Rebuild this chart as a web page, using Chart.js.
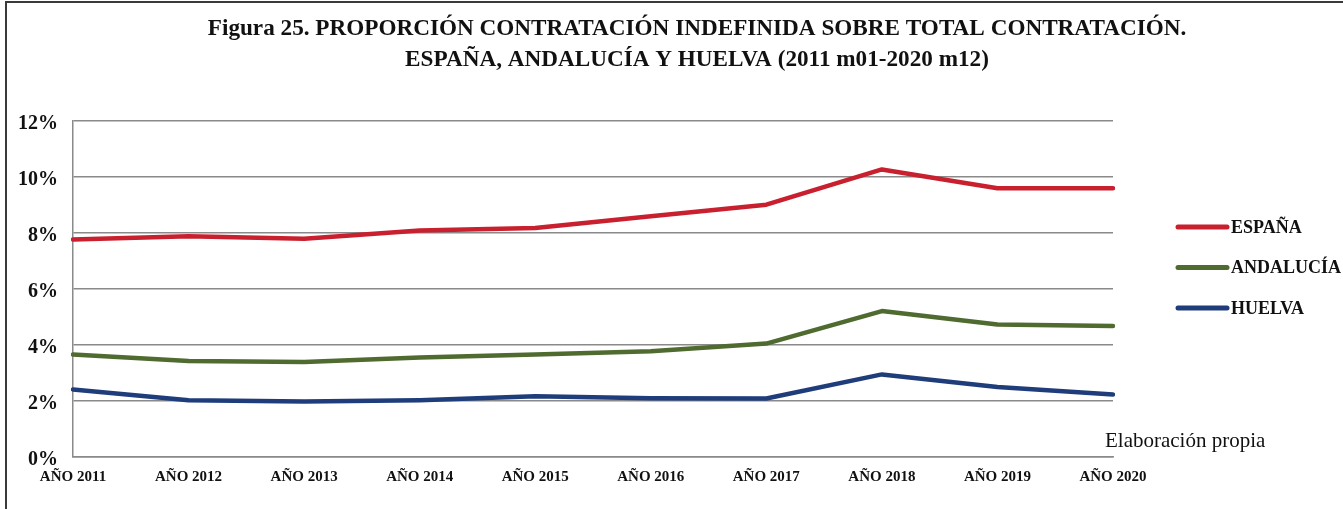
<!DOCTYPE html>
<html>
<head>
<meta charset="utf-8">
<script src="https://cdn.jsdelivr.net/npm/chart.js@4/dist/chart.umd.min.js"></script>
<style>
  html, body { margin: 0; padding: 0; background: #fff; }
  #wrap { position: relative; width: 1343px; height: 509px; overflow: hidden; }
  #frame { position: absolute; left: 5px; top: 1px; width: 1400px; height: 600px; border: 2px solid #3a3a3a; box-sizing: border-box; pointer-events: none; }
  canvas { position: absolute; left: 0; top: 0; }
</style>
</head>
<body>
<div id="wrap">
  <canvas id="c" width="1343" height="509"></canvas>
  <div id="frame"></div>
</div>
<script>
const titleLines = [
  'Figura 25. PROPORCIÓN CONTRATACIÓN INDEFINIDA SOBRE TOTAL CONTRATACIÓN.',
  'ESPAÑA, ANDALUCÍA Y HUELVA (2011 m01-2020 m12)'
];
const categories = ['AÑO 2011','AÑO 2012','AÑO 2013','AÑO 2014','AÑO 2015','AÑO 2016','AÑO 2017','AÑO 2018','AÑO 2019','AÑO 2020'];
const seriesNames = ['ESPAÑA', 'ANDALUCÍA', 'HUELVA'];
const espana    = [7.77, 7.88, 7.79, 8.09, 8.18, 8.60, 9.01, 10.27, 9.60, 9.60];
const andalucia = [3.66, 3.43, 3.39, 3.55, 3.66, 3.78, 4.05, 5.21, 4.73, 4.68];
const huelva    = [2.41, 2.03, 1.98, 2.03, 2.17, 2.10, 2.09, 2.95, 2.50, 2.23];
const yMin = 0, yMax = 12, yStep = 2;
const sourceNote = 'Elaboración propia';

const colors = ['#C8202E', '#4F6B30', '#1F3D7A'];
const serif = '"Liberation Serif", "DejaVu Serif", serif';

const customLegend = {
  id: 'customLegend',
  afterDraw(chart) {
    const ctx = chart.ctx;
    ctx.save();
    const x0 = 1178, len = 49, yStart = 227, gap = 40.5;
    chart.data.datasets.forEach((ds, i) => {
      const y = yStart + i * gap;
      ctx.strokeStyle = ds.borderColor;
      ctx.lineWidth = 5;
      ctx.lineCap = 'round';
      ctx.beginPath(); ctx.moveTo(x0, y); ctx.lineTo(x0 + len, y); ctx.stroke();
      ctx.fillStyle = '#111';
      ctx.font = 'bold 18px ' + serif;
      ctx.textAlign = 'left';
      ctx.textBaseline = 'middle';
      ctx.fillText(ds.label, x0 + len + 4, y + 1);
    });
    ctx.font = '21px ' + serif;
    ctx.fillStyle = '#111';
    ctx.textAlign = 'left';
    ctx.textBaseline = 'middle';
    ctx.fillText(sourceNote, 1105, 441);
    ctx.restore();
  }
};

new Chart(document.getElementById('c'), {
  type: 'line',
  data: {
    labels: categories,
    datasets: [espana, andalucia, huelva].map((d, i) => ({
      label: seriesNames[i],
      data: d,
      borderColor: colors[i],
      backgroundColor: colors[i],
      borderWidth: 4.5,
      pointRadius: 0,
      tension: 0,
      borderCapStyle: 'round',
      borderJoinStyle: 'round'
    }))
  },
  options: {
    responsive: false,
    animation: false,
    layout: { padding: { left: 0, right: -51, top: 0, bottom: 0 } },
    plugins: {
      legend: { display: false },
      tooltip: { enabled: false },
      title: {
        display: true,
        text: titleLines,
        color: '#111',
        font: { family: serif, size: 23.2, weight: 'bold', lineHeight: 1.34 },
        padding: { top: 13, bottom: 45.8 }
      }
    },
    scales: {
      x: {
        type: 'category',
        offset: false,
        afterFit(scale) { scale.height = 52; },
        grid: { display: false, drawTicks: false },
        border: { display: true, color: '#8a8a8a', width: 1.5 },
        ticks: {
          color: '#111',
          padding: 11,
          maxRotation: 0,
          autoSkip: false,
          font: { family: serif, size: 15, weight: 'bold' }
        }
      },
      y: {
        min: yMin, max: yMax,
        afterFit(scale) { scale.width = 73; },
        grid: { color: '#8a8a8a', lineWidth: 1.5, drawTicks: false },
        border: { display: true, color: '#8a8a8a', width: 1.5 },
        ticks: {
          stepSize: yStep,
          color: '#111',
          padding: 15,
          labelOffset: 3,
          font: { family: serif, size: 20, weight: 'bold' },
          callback: v => v + '%'
        }
      },
      spacer: {
        type: 'linear',
        position: 'right',
        display: true,
        afterFit(scale) { scale.width = 281; },
        grid: { display: false, drawTicks: false },
        border: { display: false },
        ticks: { display: false }
      }
    }
  },
  plugins: [customLegend]
});
</script>
</body>
</html>
